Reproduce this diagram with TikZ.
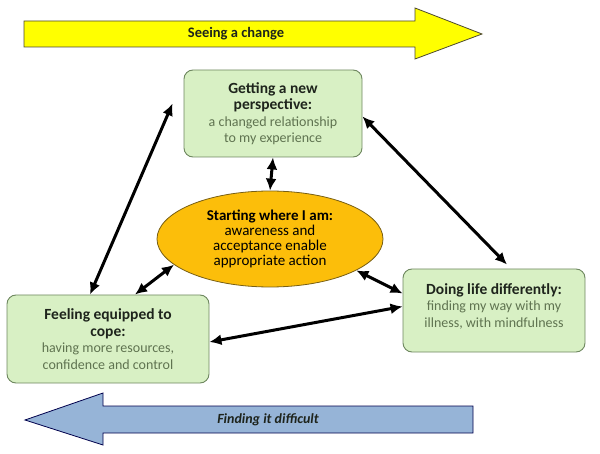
\documentclass[tikz,border=0pt]{standalone}
\usepackage{fontspec}
\setmainfont{Carlito}
\usepackage{tikz}
\usetikzlibrary{arrows.meta, positioning, shapes.geometric}
\definecolor{boxgreen}{RGB}{216,240,196}
\definecolor{boxedge}{RGB}{110,135,95}
\definecolor{ovalorange}{RGB}{252,190,10}
\definecolor{ovaledge}{RGB}{120,95,20}
\definecolor{bandyellow}{RGB}{255,255,0}
\definecolor{bandblue}{RGB}{150,180,215}
\definecolor{titletext}{RGB}{30,36,28}
\definecolor{subtext}{RGB}{95,115,80}
\newcommand{\stagetitle}[1]{\textcolor{titletext}{\fontsize{15.5}{17}\selectfont\bfseries #1}}
\newcommand{\stagebody}[1]{\textcolor{subtext}{\fontsize{14}{15.5}\selectfont #1}}
\tikzset{
  stage/.style={
    draw=boxedge,
    fill=boxgreen,
    rounded corners=9pt,
    line width=0.9pt,
    align=center,
    inner sep=3pt,
    font=\fontsize{14}{16.5}\selectfont
  },
  core/.style={
    ellipse,
    draw=ovaledge,
    fill=ovalorange,
    line width=0.8pt,
    align=center,
    inner sep=0pt,
    minimum width=226pt,
    minimum height=96pt,
    font=\fontsize{15}{15}\selectfont
  },
  link/.style={{Latex[length=12pt,width=11pt]}-{Latex[length=12pt,width=11pt]}, line width=3pt},
  band/.style={line width=0.8pt, line join=miter}
}

\begin{document}
\begin{tikzpicture}[x=1pt, y=1pt]
\useasboundingbox (0,0) rectangle (600,453);

% Direction bands
\draw[band, draw=black!60!olive, fill=bandyellow]
  (24,432) -- (415,432) -- (415,445) -- (482,419) -- (415,394) -- (415,406) -- (24,406) -- cycle;
\node[font=\fontsize{14.5}{16}\selectfont\bfseries, text=titletext] (seeing) at (236,419) {Seeing a change};

\draw[band, draw=black!70!blue, fill=bandblue]
  (473,47) -- (103,47) -- (103,60) -- (25,33) -- (103,8) -- (103,20) -- (473,20) -- cycle;
\node[font=\fontsize{14}{16}\selectfont\bfseries\itshape, text=titletext] (finding) at (268,33) {Finding it difficult};

% Stages
\node[stage, minimum width=178pt, minimum height=87pt] (getting) at (273,339.5)
  {\stagetitle{Getting a new}\\
   \stagetitle{perspective:}\\
   \stagebody{a changed relationship}\\
   \stagebody{to my experience}};
\node[stage, minimum width=202pt, minimum height=88pt] (feeling) at (108,114)
  {\stagetitle{Feeling equipped to}\\
   \stagetitle{cope:}\\
   \stagebody{having more resources,}\\
   \stagebody{confidence and control}};
\node[stage, minimum width=182pt, minimum height=83pt] (doing) at (494,142.5)
  {\stagetitle{Doing life differently:}\\
   \stagebody{finding my way with my}\\
   \stagebody{illness, with mindfulness}\\[-6pt]\mbox{}};
\node[core] (start) at (270,214)
  {{\bfseries Starting where I am:}\\
   awareness and\\
   acceptance enable\\
   appropriate action};

% Links
\draw[link] (getting.south) -- (start.north);
\draw[link] ([xshift=-18pt]feeling.north) -- ([xshift=-11pt,yshift=10pt]getting.west);
\draw[link] ([xshift=27pt]feeling.north) -- (start.195);
\draw[link] ([yshift=-3pt]getting.east) -- ([xshift=13pt,yshift=4pt]doing.north);
\draw[link] (start.340) -- ([yshift=17pt]doing.west);
\draw[link] ([yshift=-3pt]feeling.east) -- ([yshift=4pt]doing.west);

\end{tikzpicture}
\end{document}
